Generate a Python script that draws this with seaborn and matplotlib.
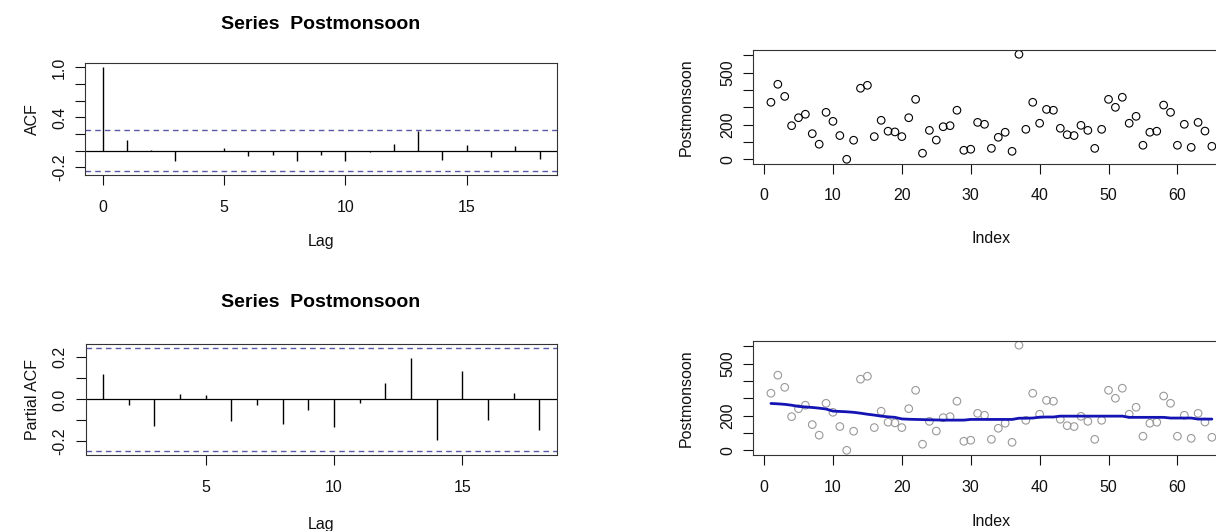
import numpy as np
import pandas as pd
import matplotlib
matplotlib.use("Agg")
import matplotlib.pyplot as plt
import seaborn as sns

# valores
postmonsoon = [329, 433, 363, 194, 240, 260, 148, 87, 271, 219,
               137, 0, 110, 410, 427, 131, 225, 162, 158, 131,
               240, 346, 35, 167, 111, 188, 194, 283, 52, 58,
               213, 202, 63, 127, 156, 46, 606, 173, 329, 208,
               288, 283, 179, 142, 137, 196, 167, 63, 173, 346,
               300, 358, 208, 248, 81, 156, 162, 313, 271, 81,
               202, 69, 213, 163, 75]
index = list(range(1, len(postmonsoon) + 1))

# curva suavizada (azul) do painel inferior direito
smooth = [270, 268, 265, 260, 253, 250, 247, 243, 238, 226,
          224, 222, 219, 214, 208, 203, 197, 193, 190, 181,
          179, 178, 177, 176, 175, 174, 174, 174, 174, 178,
          178, 178, 178, 178, 178, 178, 185, 185, 186, 191,
          192, 192, 197, 197, 197, 197, 197, 197, 197, 197,
          197, 197, 190, 190, 190, 190, 190, 190, 186, 186,
          186, 186, 180, 180, 180]

acf_lags = list(range(0, 19))
acf_vals = [1.0, 0.125, 0.003, -0.125, -0.01, 0.03, -0.07, -0.047, -0.12, -0.048,
            -0.12, -0.018, 0.08, 0.24, -0.11, 0.072, -0.08, 0.06, -0.10]

pacf_lags = list(range(1, 19))
pacf_vals = [0.123, -0.027, -0.128, 0.024, 0.019, -0.104, -0.027, -0.115, -0.049,
             -0.133, -0.017, 0.077, 0.197, -0.194, 0.136, -0.096, 0.030, -0.147]

ci = 0.243  # limite de confiança (linhas tracejadas)

sns.set_style("white")
plt.rcParams['font.family'] = ['Liberation Sans', 'DejaVu Sans']
plt.rcParams['axes.edgecolor'] = '#333333'
plt.rcParams['axes.linewidth'] = 0.8
plt.rcParams['text.color'] = 'black'
plt.rcParams['axes.labelcolor'] = '#111111'

W, H = 1216, 531
fig = plt.figure(figsize=(W / 100, H / 100), dpi=100)


def box(l, r, t, b):
    return [l / W, (H - b) / H, (r - l) / W, (b - t) / H]


tick_fs = 11.5
ci_color = '#5858a8'


def estilo(ax, yticks, ylabels, xticks):
    ax.set_yticks(yticks)
    ax.set_yticklabels(ylabels, rotation=90, va='center')
    ax.set_xticks(xticks)
    ax.tick_params(axis='both', direction='out', length=7, width=0.8,
                   colors='#111111', labelsize=tick_fs, left=True, bottom=True)
    ax.tick_params(axis='x', pad=11)
    ax.tick_params(axis='y', pad=6)
    for s in ax.spines.values():
        s.set_visible(True)
        s.set_color('#333333')


# A - ACF
ax1 = fig.add_axes(box(85.2, 557, 63.3, 175))
ax1.vlines(acf_lags, 0, acf_vals, color='black', lw=1)
ax1.axhline(0, color='black', lw=0.9)
ax1.axhline(ci, color=ci_color, ls=(0, (4, 3)), lw=1)
ax1.axhline(-ci, color=ci_color, ls=(0, (4, 3)), lw=1)
ax1.set_xlim(-0.72, 18.72)
ax1.set_ylim(-0.293, 1.05)
estilo(ax1, [-0.2, 0.0, 0.2, 0.4, 0.6, 0.8, 1.0],
       ['-0.2', '', '', '0.4', '', '', '1.0'], [0, 5, 10, 15])
ax1.set_xlabel('Lag', fontsize=tick_fs, labelpad=13.5)
ax1.set_ylabel('ACF', fontsize=tick_fs, labelpad=9)
ax1.set_title('Series  Postmonsoon', fontsize=14, fontweight='bold', pad=25)

# B - PACF
ax2 = fig.add_axes(box(85.5, 556.7, 344.3, 454.5))
ax2.vlines(pacf_lags, 0, pacf_vals, color='black', lw=1)
ax2.axhline(0, color='black', lw=0.9)
ax2.axhline(ci, color=ci_color, ls=(0, (4, 3)), lw=1)
ax2.axhline(-ci, color=ci_color, ls=(0, (4, 3)), lw=1)
ax2.set_xlim(0.32, 18.68)
ax2.set_ylim(-0.262, 0.262)
estilo(ax2, [-0.2, -0.1, 0.0, 0.1, 0.2],
       ['-0.2', '', '0.0', '', '0.2'], [5, 10, 15])
ax2.set_xlabel('Lag', fontsize=tick_fs, labelpad=16)
ax2.set_ylabel('Partial ACF', fontsize=tick_fs, labelpad=9)
ax2.set_title('Series  Postmonsoon', fontsize=14, fontweight='bold', pad=26.5)

df = pd.DataFrame({'Index': index, 'Postmonsoon': postmonsoon, 'Suave': smooth})

# C - dispersão
ax3 = fig.add_axes(box(753.3, 1229.5, 50.1, 163.5))
sns.scatterplot(data=df, x='Index', y='Postmonsoon', ax=ax3, s=30,
                facecolors='none', edgecolor='black', linewidth=0.8)
ax3.set_xlim(-1.56, 67.56)
ax3.set_ylim(-24.24, 630.24)
estilo(ax3, [0, 100, 200, 300, 400, 500, 600],
       ['0', '', '200', '', '', '500', ''], [0, 10, 20, 30, 40, 50, 60])
ax3.set_xlabel('Index', fontsize=tick_fs, labelpad=20)
ax3.set_ylabel('Postmonsoon', fontsize=tick_fs, labelpad=19)

# D - dispersão com curva suavizada
ax4 = fig.add_axes(box(753.3, 1229.5, 341, 454.5))
sns.scatterplot(data=df, x='Index', y='Postmonsoon', ax=ax4, s=30,
                facecolors='none', edgecolor='#999999', linewidth=0.8)
sns.lineplot(data=df, x='Index', y='Suave', ax=ax4, color='#1414b4', lw=2)
ax4.set_xlim(-1.56, 67.56)
ax4.set_ylim(-24.24, 630.24)
estilo(ax4, [0, 100, 200, 300, 400, 500, 600],
       ['0', '', '200', '', '', '500', ''], [0, 10, 20, 30, 40, 50, 60])
ax4.set_xlabel('Index', fontsize=tick_fs, labelpad=14)
ax4.set_ylabel('Postmonsoon', fontsize=tick_fs, labelpad=19)

fig.savefig('out.png', dpi=100)
